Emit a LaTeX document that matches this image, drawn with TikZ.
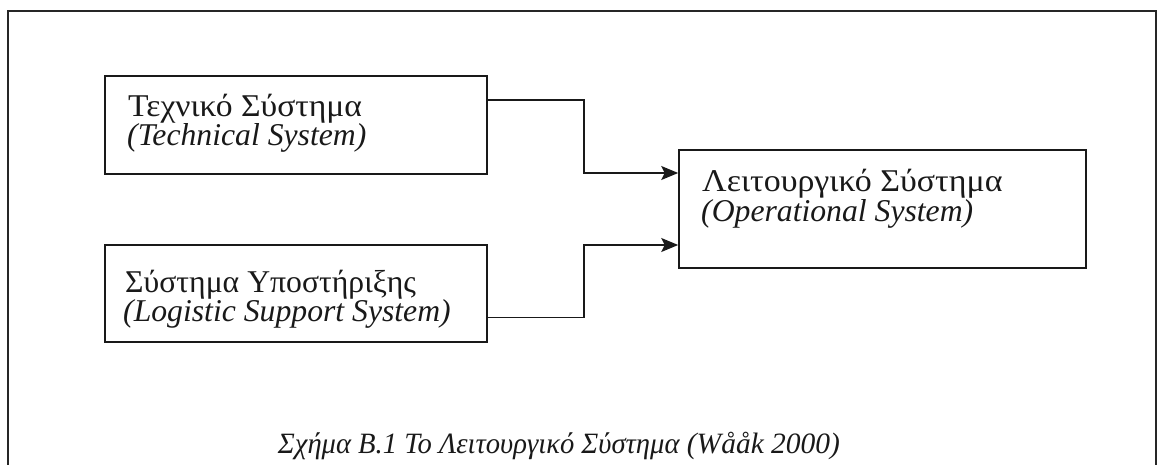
\documentclass[tikz,border=0pt]{standalone}
\usepackage{fontspec}
\setmainfont{Liberation Serif}
\usetikzlibrary{arrows.meta}
% Greek lines are set a little wider or narrower than the Latin ones
\newcommand{\widen}[2]{\scalebox{#1}[1]{#2}}
\begin{document}
\begin{tikzpicture}[x=1pt,y=-1pt,
  box/.style={draw=black!90, line width=1.6pt, rectangle, inner sep=0pt},
  lbl/.style={anchor=base west, inner sep=0pt, font=\fontsize{31.7}{34}\selectfont, text=black!90},
  conn/.style={draw=black!90, line width=1.6pt, -{Stealth[length=17pt,width=14pt,inset=3.5pt]}},
  frame/.style={draw=black!85, line width=1.8pt}]
\useasboundingbox (0,0) rectangle (1159,465);
% outer frame, open at the bottom
\draw[frame] (8,465) -- (8,11) -- (1156,11) -- (1156,465);
% blocks
\node[box, minimum width=382pt, minimum height=98pt] (tech) at (296,125) {};
\node[box, minimum width=382pt, minimum height=97pt] (supp) at (296,293.5) {};
\node[box, minimum width=407pt, minimum height=118pt] (oper) at (882.5,209) {};
% block texts
\node[lbl] (techgr) at (128,117) {\widen{1.06}{Τεχνικό Σύστημα}};
\node[lbl] (techen) at (127,146) {\itshape (Technical System)};
\node[lbl] (suppgr) at (125,292) {\widen{1.0}{Σύστημα Υποστήριξης}};
\node[lbl] (suppen) at (123,321) {\itshape (Logistic Support System)};
\node[lbl] (opergr) at (702,192) {\widen{1.07}{Λειτουργικό Σύστημα}};
\node[lbl] (operen) at (701,222) {\itshape (Operational System)};
% connectors
\draw[conn] ([yshift=25pt]tech.east) -- ++(96,0) |- ([yshift=36pt]oper.west);
\draw[conn] ([yshift=-24pt]supp.east) -- ++(96,0) |- ([yshift=-36pt]oper.west);
% caption
\node[anchor=base, inner sep=0pt, font=\fontsize{29.5}{32}\selectfont\itshape, text=black!90] (caption) at (559,453) {\widen{0.97}{Σχήμα Β.1 Το Λειτουργικό Σύστημα} (Wååk 2000)};
\end{tikzpicture}
\end{document}
